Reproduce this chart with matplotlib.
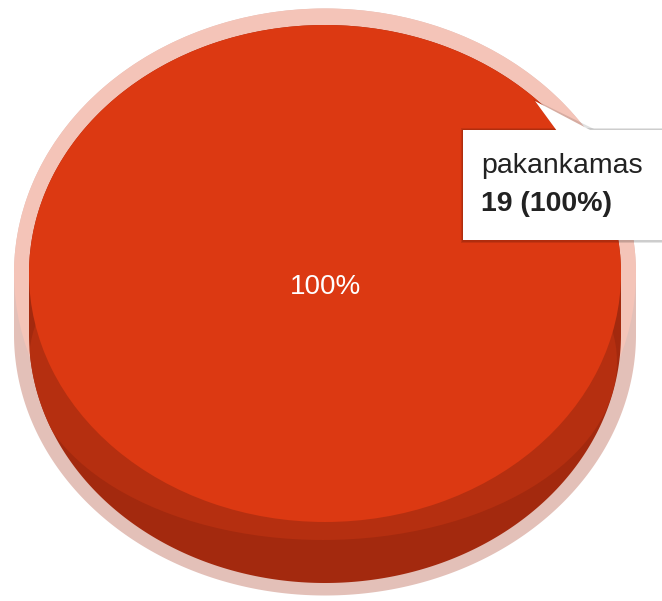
import numpy as np
import matplotlib.pyplot as plt
from matplotlib.patches import Rectangle, Polygon, Ellipse

plt.rcParams['font.family'] = ['Liberation Sans', 'DejaVu Sans']

labels = ['pakankamas']
values = [19]

face = '#dc3912'
mid = '#b52f10'
dark = '#a3290e'
halo_face = '#f4c4b8'
halo_dark = '#e3c0b8'

W, H = 662, 601
# geometry of the tilted pie, in pixels
cx, cy = 325.0, 273.5
a, b = 296.0, 248.5
depth = 61.0


def hull(a_top, b_top, a_bot, b_bot, cy_top, cy_bot, n=300):
    t1 = np.linspace(0, np.pi, n)
    t2 = np.linspace(np.pi, 2 * np.pi, n)
    x = np.r_[cx + a_bot * np.cos(t1), cx + a_top * np.cos(t2)]
    y = np.r_[cy_bot + b_bot * np.sin(t1), cy_top + b_top * np.sin(t2)]
    return np.c_[x, y]


fig = plt.figure(figsize=(W / 100, H / 100), dpi=100)

# side wall and hover ring, pixel coordinates
base = fig.add_axes([0, 0, 1, 1])
base.set_xlim(0, W)
base.set_ylim(H, 0)
base.axis('off')
base.add_patch(Polygon(hull(311, 265, 311, 261, cy, cy + depth),
                       closed=True, fc=halo_dark, lw=0))
base.add_patch(Ellipse((cx, cy), 2 * 311, 2 * 265, fc=halo_face, lw=0))
side = Polygon(hull(a, b, a, b, cy, cy + depth), closed=True, fc=dark, lw=0)
base.add_patch(side)
band = Ellipse((cx - 2, 362), 2 * 294, 2 * 178, fc=mid, lw=0)
base.add_patch(band)
band.set_clip_path(side)

# top face: the pie itself, axes scaled so the circle becomes the ellipse
ax = fig.add_axes([0, 0, 1, 1])
ax.set_zorder(2)
ax.patch.set_alpha(0)
ax.pie(values, colors=[face], radius=1, center=(0, 0), startangle=90,
       wedgeprops=dict(linewidth=0), autopct='%1.0f%%',
       pctdistance=(294 - cy) / b,
       textprops=dict(color='white', fontsize=20, va='baseline'))
ax.set_aspect('auto')
ax.set_xlim(-cx / a, (W - cx) / a)
ax.set_ylim(-(H - cy) / b, cy / b)
ax.axis('off')

# tooltip overlay in pixel coordinates
ov = fig.add_axes([0, 0, 1, 1])
ov.set_zorder(3)
ov.set_xlim(0, W)
ov.set_ylim(H, 0)
ov.axis('off')
ov.patch.set_alpha(0)

ov.add_patch(Rectangle((461, 128), 220, 115, fc='#000000', alpha=0.10, lw=0))
ov.add_patch(Rectangle((462, 129), 220, 113, fc='#000000', alpha=0.10, lw=0))
ov.add_patch(Polygon([(533, 99), (556, 129), (594, 129)], closed=True,
                     fc='#000000', alpha=0.12, lw=0))
ov.add_patch(Rectangle((463, 130), 220, 110, fc='white', lw=0))
ov.add_patch(Polygon([(535, 101), (557, 131), (592, 131)], closed=True,
                     fc='white', lw=0))
ov.text(481, 173, labels[0], fontsize=20.5, color='#222222', va='baseline')
ov.text(481, 211, f'{values[0]} (100%)', fontsize=20.5, color='#222222',
        fontweight='bold', va='baseline')

fig.savefig('out.png', dpi=100)
